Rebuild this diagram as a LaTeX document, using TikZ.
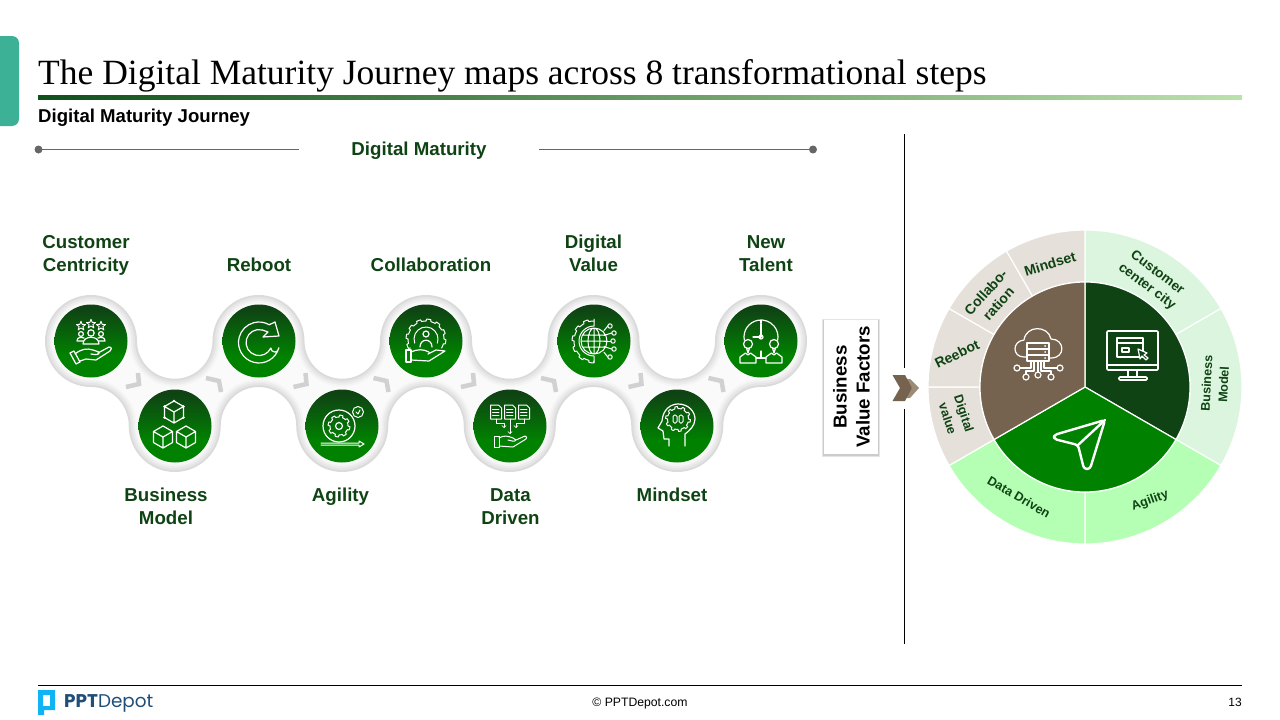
\documentclass[tikz,border=0pt]{standalone}
\usepackage{xcolor}
\usepackage{fontspec}
\setmainfont{Liberation Sans}
\newfontfamily\titlefont{Liberation Serif}
\newfontfamily\logofont{Poppins}
\usepackage{tikz}
\definecolor{darkgreen}{HTML}{0F4314}
\definecolor{midgreen}{HTML}{008200}
\definecolor{palegreen}{HTML}{DCF5DE}
\definecolor{mintgreen}{HTML}{B5FFB5}
\definecolor{beige}{HTML}{E5E0D9}
\definecolor{brown}{HTML}{76634F}
\definecolor{lightbrown}{HTML}{9C8B77}
\definecolor{tabteal}{HTML}{3CB196}
\definecolor{logoblue}{HTML}{1F4E79}
\definecolor{logocyan}{HTML}{10B4F5}
\definecolor{rulestart}{HTML}{10501A}
\definecolor{ruleend}{HTML}{BCE2AC}
\pgfdeclareverticalshading{discshade}{100bp}{color(0bp)=(midgreen); color(40bp)=(midgreen); color(72bp)=(darkgreen); color(100bp)=(darkgreen)}
\tikzset{
  ico/.style={draw=white,line width=1.2,line join=round,line cap=round},
  disc/.style={circle,inner sep=0,minimum size=73,shading=discshade},
  steplabel/.style={inner sep=0,align=center,text=darkgreen,font=\bfseries\fontsize{18.7}{23}\selectfont},
  pielabel/.style={inner sep=0,align=center,text=darkgreen,font=\bfseries\fontsize{14}{17}\selectfont},
  piesmall/.style={pielabel,font=\bfseries\fontsize{12.6}{17}\selectfont},
}
\newcommand\ribbon[2]{%
  \pgfmathsetmacro\Rr{46-#1}\pgfmathsetmacro\Rn{37.75+#1}\pgfmathsetmacro\Rv{39+#1}
  \fill[#2] (91,341+\Rr) arc[start angle=90,end angle=360,radius=\Rr]
    \foreach \k in {1,2,3,4} {arc[start angle=180,end angle=0,radius=\Rn] arc[start angle=180,end angle=360,radius=\Rr]}
    arc[start angle=0,end angle=90,radius=\Rr]
    arc[start angle=270,end angle=180,x radius=\Rn,y radius=\Rv]
    \foreach \k in {1,2,3} {arc[start angle=0,end angle=180,radius=\Rr] arc[start angle=0,end angle=-180,x radius=\Rn,y radius=\Rv]}
    arc[start angle=0,end angle=180,radius=\Rr]
    arc[start angle=0,end angle=-90,x radius=\Rn,y radius=\Rv] -- cycle;}
\newcommand\icostar[2]{\draw[ico,line width=.9,shift={(#1,#2)}] (-90:4.8) -- (-54:2) -- (-18:4.8) -- (18:2) -- (54:4.8) -- (90:2) -- (126:4.8) -- (162:2) -- (198:4.8) -- (234:2) -- cycle;}
\newcommand\icocube[3]{\draw[ico,shift={(#1,#2)}] (30:#3) -- (90:#3) -- (150:#3) -- (210:#3) -- (270:#3) -- (330:#3) -- cycle (0,0) -- (330:#3) (0,0) -- (210:#3) (0,0) -- (90:#3);}
\newcommand\icogear[6]{\draw[ico,line width=1,shift={(#1,#2)}] plot[domain=#5:#6,samples=121] (\x:{#3+1.9*((sin(#4*\x)>0)?1:0)});}
\begin{document}
\begin{tikzpicture}[x=1pt,y=-1pt]
\useasboundingbox (0,0) rectangle (1280,720);
\fill[tabteal] (0,36) -- (12,36) arc[start angle=270,end angle=360,radius=7] -- (19,119) arc[start angle=0,end angle=90,radius=7] -- (0,126) -- cycle;
\node[anchor=base west,inner sep=0,font=\titlefont\fontsize{35.5}{40}\selectfont] (title) at (38,84) {The Digital Maturity Journey maps across 8 transformational steps};
\shade[left color=rulestart,right color=ruleend] (38,95) rectangle (1242,99);
\node[anchor=base west,inner sep=0,font=\bfseries\fontsize{18.6}{22}\selectfont] (subtitle) at (38,122) {Digital Maturity Journey};
% digital maturity line
\node[steplabel] (maturity) at (419,151) {Digital Maturity};
\coordinate (dotl) at (38.5,149.5);
\coordinate (dotr) at (813,149.5);
\coordinate (linel) at (299,149.5);
\coordinate (liner) at (539,149.5);
\draw[black!60,line width=1] (dotl) -- (linel);
\draw[black!60,line width=1] (liner) -- (dotr);
\fill[black!60] (dotl) circle[radius=4];
\fill[black!60] (dotr) circle[radius=4];
% ribbon
\ribbon{0}{black!14}
\ribbon{2}{black!10}
\ribbon{4}{black!7}
\ribbon{6}{black!4}
\ribbon{8}{black!2}
\foreach \k in {0,1,2,3} {
  \draw[black!18,line width=4.5,shift={(167.5*\k,0)}] (126,387) -- (139,384) -- (138,373);
  \draw[black!18,line width=4.5,shift={(167.5*\k,0)}] (206,378) -- (219,381) -- (221,392);
}
\foreach \n/\x/\y in {customer/91/341,business/175/426,reboot/259/341,agility/342/426,collab/426/341,data/510/426,digital/594/341,mindset/677/426,talent/761/341}
  \node[disc] (\n) at (\x,\y) {};
% step labels
\node[steplabel] (lcustomer) at (86,255) {Customer\\Centricity};
\node[steplabel] (lreboot) at (259,265) {Reboot};
\node[steplabel] (lcollab) at (431,265) {Collaboration};
\node[steplabel] (ldigital) at (593.5,253) {Digital\\Value};
\node[steplabel] (ltalent) at (766,254) {New\\Talent};
\node[steplabel] (lbusiness) at (166,506) {Business\\Model};
\node[steplabel] (lagility) at (340.5,497) {Agility};
\node[steplabel] (ldata) at (510.5,507) {Data\\Driven};
\node[steplabel] (lmindset) at (672,495) {Mindset};
% icons
\begin{scope}[shift={(customer.center)}]
  \icostar{-10}{-15} \icostar{0}{-17} \icostar{10}{-15}
  \draw[ico] (0,-8) circle[radius=3.2] (-10,-7) circle[radius=2.4] (10,-7) circle[radius=2.4];
  \draw[ico] (-8,3) .. controls (-8,-6) and (8,-6) .. (8,3) -- cycle (-8,0) -- (-14,0) .. controls (-14,-4) and (-10,-4) .. (-7,-3) (8,0) -- (14,0) .. controls (14,-4) and (10,-4) .. (7,-3);
  \draw[ico] (-21,12) -- (-17,10) -- (-11,21) -- (-15,23) -- cycle;
  \draw[ico] (-16,13) .. controls (-10,8) and (-4,7) .. (2,9) -- (8,11) .. controls (9,14) and (5,14) .. (0,13) (7,12) -- (18,6) .. controls (21,6) and (21,9) .. (19,10) -- (5,19) -- (-5,18) -- (-11,20);
\end{scope}
\begin{scope}[shift={(business.center)}]
  \icocube{-1}{-14}{11} \icocube{-12}{11}{11} \icocube{11}{11}{11}
  \fill[white] (-1,-25) circle[radius=1.4] (8.5,-19.5) circle[radius=1.4] (-10.5,-19.5) circle[radius=1.4] (8.5,-8.5) circle[radius=1.4] (-10.5,-8.5) circle[radius=1.4];
\end{scope}
\begin{scope}[shift={(reboot.center)}]
  \draw[ico] (19.8,6.8) arc[start angle=15,end angle=300,radius=20.5] -- (16,-19) -- (20,-5) -- (4,-4) -- (9,-9) -- (3.4,-11) arc[start angle=285,end angle=25,radius=13] arc[start angle=180,end angle=0,radius=4];
\end{scope}
\begin{scope}[shift={(agility.center)}]
  \draw[ico] (-3,0) circle[radius=16];
  \icogear{-3}{0}{9}{8}{0}{360}
  \draw[ico] (-3,0) circle[radius=3.5];
  \fill[midgreen!60!darkgreen] (16,-14) circle[radius=5.5];
  \draw[ico,line width=1] (16,-14) circle[radius=5.5] (14,-14) -- (16,-12) -- (18,-16);
  \draw[ico,line width=1] (-21,17) -- (17,17) -- (17,15) -- (22,18) -- (17,21) -- (17,19) -- (-21,19);
\end{scope}
\begin{scope}[shift={(collab.center)}]
  \icogear{0}{-2}{18}{12}{150}{390}
  \draw[ico,line width=1] (0,-2) ++(160:12) arc[start angle=160,end angle=380,radius=12];
  \draw[ico] (0,-7) circle[radius=3] (-6,6) .. controls (-6,-3) and (6,-3) .. (6,6);
  \draw[ico] (-20,9) rectangle (-15,21);
  \draw[ico] (-15,11) .. controls (-8,8) and (-3,8) .. (3,11) (-15,19) -- (3,20) -- (19,10) -- (10,9) -- (2,13);
\end{scope}
\begin{scope}[shift={(data.center)}]
  \foreach \x in {-14,0,14} {
    \draw[ico,line width=1] (\x-5.5,-21) -- (\x+2.5,-21) -- (\x+5.5,-18) -- (\x+5.5,-7) -- (\x-5.5,-7) -- cycle;
    \draw[ico,line width=.7] (\x-3.5,-17) -- (\x+3,-17) (\x-3.5,-14) -- (\x+3,-14) (\x-3.5,-11) -- (\x+3,-11);
  }
  \draw[ico,line width=.8,->] (0,-7) -- (0,8);
  \draw[ico,line width=.8,->] (-14,-7) -- (-14,-3) -- (-6,-3) -- (-6,2);
  \draw[ico,line width=.8,->] (14,-7) -- (14,-3) -- (6,-3) -- (6,2);
  \draw[ico,line width=1] (-16,10) rectangle (-11,21);
  \draw[ico,line width=1] (-11,12) .. controls (-6,9) and (-2,10) .. (3,12) -- (6,14) .. controls (5,16) and (1,15) .. (-2,14) (6,14) -- (15,10) .. controls (17,10) and (17,12) .. (16,13) -- (3,21) -- (-11,20);
\end{scope}
\begin{scope}[shift={(digital.center)}]
  \icogear{0}{0}{20}{12}{90}{270}
  \draw[ico,line width=1] (0,21.9) -- (0,15) (0,-21.9) -- (0,-15) (0,15) arc[start angle=90,end angle=270,radius=15];
  \draw[ico,line width=1] (0,0) circle[radius=13] (0,0) circle[x radius=6,y radius=13] (-13,0) -- (13,0) (-11,-6) -- (11,-6) (-11,6) -- (11,6) (0,-13) -- (0,13);
  \foreach \x/\y in {16/-15,20/-8,19/0,20/8,16/16} {
    \draw[ico,line width=1] (\x,\y) circle[radius=2.2];
    \draw[ico,line width=1] (10,\y*.7) -- (\x-2.2,\y);
  }
\end{scope}
\begin{scope}[shift={(mindset.center)}]
  \draw[ico] (-8,20) -- (-8,13) -- (-13,13) -- (-14,5) -- (-19,2) -- (-15,-5) .. controls (-14,-17) and (-6,-22) .. (1,-22) .. controls (12,-22) and (18,-14) .. (18,-7) .. controls (18,0) and (12,5) .. (8,8) -- (8,20);
  \icogear{1}{-7}{10.5}{10}{0}{360}
  \draw[ico,line width=1,rounded corners=1.5] (-4,-11) rectangle (0,-3) (2,-11) rectangle (6,-3);
\end{scope}
\begin{scope}[shift={(talent.center)}]
  \draw[ico] (0,-4) ++(170:17) arc[start angle=170,end angle=370,radius=17];
  \draw[ico] (0,-21) -- (0,-18) (0,-4) -- (0,-17) (0,-4) -- (-8,-4) (0,10) -- (0,16) (-5,17) -- (5,17);
  \draw[ico] (0,-4) circle[radius=2];
  \foreach \x in {-13,13} {
    \fill[midgreen!70!darkgreen] (\x,3) circle[radius=4.5];
    \draw[ico] (\x,3) circle[radius=4.5] (\x-1.5,7) -- (\x,12) -- (\x+1.5,7);
    \draw[ico] (\x-8,22) -- (\x-8,16) -- (\x-2.5,12) -- (\x,14) -- (\x+2.5,12) -- (\x+8,16) -- (\x+8,22) -- cycle;
  }
\end{scope}
% value factors box
\fill[black!10] (821.5,319) rectangle (880,457);
\fill[black!20] (822.5,319.5) rectangle (879,455.5);
\fill[white] (823.5,319.5) rectangle (877.5,454);
\node[rotate=90,inner sep=0,align=center,font=\bfseries\fontsize{18.7}{23}\selectfont] (factors) at (851.5,387) {Business\\Value Factors};
\coordinate (vtop) at (904.5,134);
\coordinate (vbot) at (904.5,644);
\draw[line width=1] (vtop) -- (vbot);
\fill[white] (888,368) rectangle (924,409);
\fill[lightbrown] (905,379) -- (910,379) -- (919,388) -- (910,398) -- (905,398) -- (912,388) -- cycle;
\fill[brown] (892.5,375) -- (905,375) -- (912,388) -- (905,401) -- (892.5,401) -- (900,388) -- cycle;
% pie
\begin{scope}[shift={(1085,387)}]
  \foreach \a/\b/\c in {270/330/palegreen,330/390/palegreen,30/90/mintgreen,90/150/mintgreen,150/180/beige,180/210/beige,210/240/beige,240/270/beige}
    \draw[fill=\c,draw=white,line width=1.2] (\a:157) arc[start angle=\a,end angle=\b,radius=157] -- (\b:105) arc[start angle=\b,end angle=\a,radius=105] -- cycle;
  \foreach \a/\b/\c in {270/390/darkgreen,30/150/midgreen,150/270/brown}
    \draw[fill=\c,draw=white,line width=1.2] (0,0) -- (\a:105) arc[start angle=\a,end angle=\b,radius=105] -- cycle;
\end{scope}
\node[pielabel,rotate=17] (pmindset) at (1050,264) {Mindset};
\node[pielabel,rotate=48] (pcollab) at (992,298) {Collabo-\\ration};
\node[pielabel,rotate=26] (preboot) at (957,354) {Reebot};
\node[piesmall,rotate=-72] (pdigital) at (956,416) {Digital\\value};
\node[piesmall,rotate=-30] (pdata) at (1019,497) {Data Driven};
\node[piesmall,rotate=20] (pagility) at (1150,501) {Agility};
\node[piesmall,rotate=87] (pbusiness) at (1215,384) {Business\\Model};
\node[pielabel,font=\bfseries\fontsize{13.5}{17}\selectfont,rotate=-37] (pcustomer) at (1152,280) {Customer\\center city};
% monitor
\draw[ico,line width=1.7,rounded corners=1] (1107,331) rectangle (1158,370) (1107,365) -- (1158,365);
\draw[ico] (1117,338) rectangle (1143,357) (1117,343) -- (1143,343) (1122,348) rectangle (1129,352);
\draw[ico,line width=1.5] (1128,370) -- (1128,377) (1137,370) -- (1137,377);
\draw[ico,line width=1.7,rounded corners=1] (1119,377) rectangle (1147,380);
\draw[ico,fill=darkgreen] (1138,349) -- (1147,353) -- (1144,355) -- (1148,358) -- (1146,360) -- (1142,356) -- (1140,359) -- cycle;
% cloud
\draw[ico] (1032,357) -- (1024,357) .. controls (1012,357) and (1012,341) .. (1024,340) .. controls (1026,325) and (1048,325) .. (1051,339) .. controls (1065,339) and (1066,358) .. (1051,358) -- (1048,358);
\draw[ico,fill=brown] (1027,343) rectangle (1049,349) (1027,349) rectangle (1049,355) (1027,355) rectangle (1049,361);
\foreach \y in {346,352,358} \fill[white] (1045,\y) circle[radius=1];
\draw[ico] (1020,368) -- (1031,368) -- (1031,361) (1057,368) -- (1044,368) -- (1044,361) (1026,374) -- (1026,371) -- (1034,371) -- (1034,361) (1051,374) -- (1051,371) -- (1041,371) -- (1041,361) (1038,361) -- (1038,372);
\draw[ico] (1017,368) circle[radius=3] (1060,368) circle[radius=3] (1026,377) circle[radius=3] (1051,377) circle[radius=3] (1038,375) circle[radius=3];
% plane
\draw[ico,line width=2.4,rounded corners=3] (1105,420) -- (1054,435) -- (1054,439) -- (1078,445) -- (1084,469) -- (1090,469) -- cycle;
\draw[ico,line width=2.4] (1078,445) -- (1105,420);
% footer
\coordinate (rulel) at (38,685.5);
\coordinate (ruler) at (1242,685.5);
\draw[line width=1] (rulel) -- (ruler);
\fill[logocyan,even odd rule] (38,690) -- (55,690) -- (55,710) -- (44,710) -- (44,715) -- (38,715) -- cycle (43,695) rectangle (50,706);
\node[anchor=base west,inner sep=0,text=logoblue,font=\logofont\fontsize{18.4}{20}\selectfont] (logo) at (64,707) {\textbf{PPT}Depot};
\node[inner sep=0,font=\fontsize{12.2}{14}\selectfont] (copyright) at (640,703.5) {© PPTDepot.com};
\node[anchor=east,inner sep=0,font=\fontsize{12}{14}\selectfont] (pageno) at (1242,702) {13};
\end{tikzpicture}
\end{document}
